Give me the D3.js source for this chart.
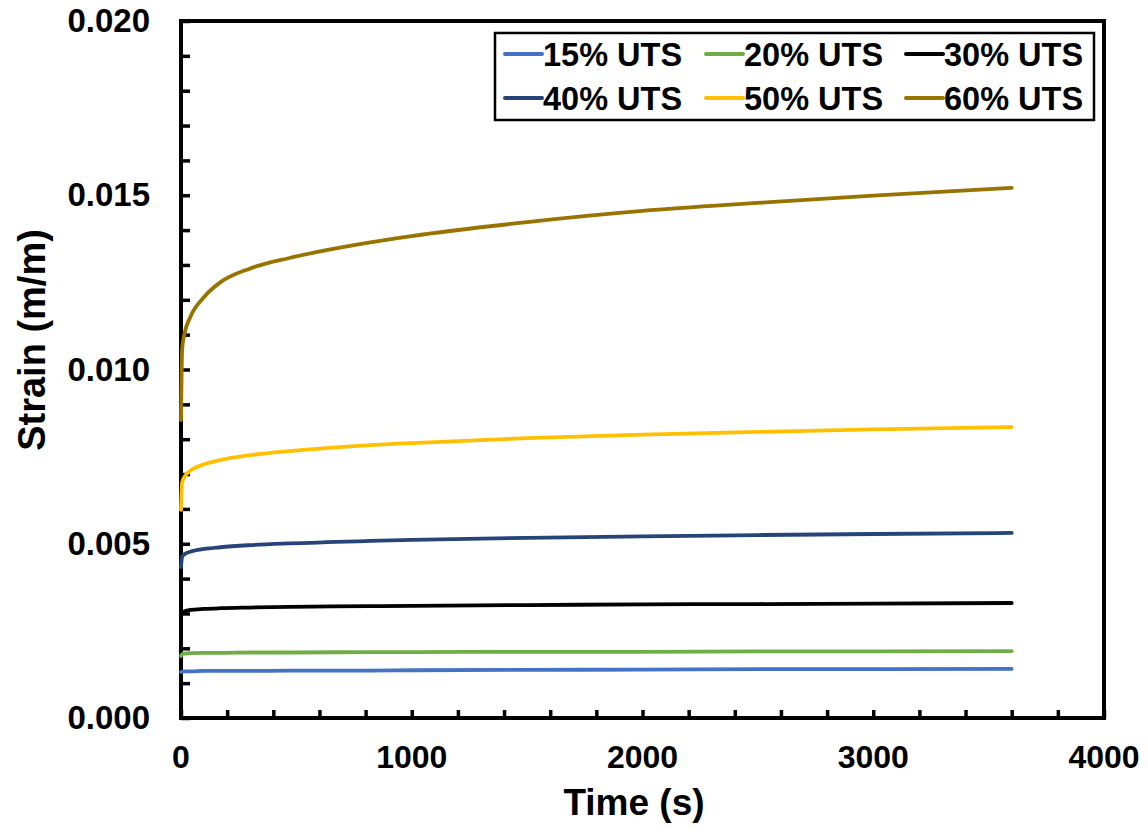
<!DOCTYPE html>
<html>
<head>
<meta charset="utf-8">
<script src="https://cdn.jsdelivr.net/npm/d3@7"></script>
<style>
  html, body { margin: 0; padding: 0; background: #fff; }
  svg { display: block; }
  text { font-family: "Liberation Sans", Arial, sans-serif; font-weight: bold; fill: #000; }
</style>
</head>
<body>
<svg id="chart" width="1148" height="828"></svg>
<script>
// Creep test: strain vs time at several stress levels (% of UTS)
const timeS = [0, 5, 15, 40, 100, 170, 300, 470, 820, 1000, 1500, 2000, 2500, 3000, 3600];

const seriesNames = ["15% UTS", "20% UTS", "30% UTS", "40% UTS", "50% UTS", "60% UTS"];
const seriesColors = ["#4472C4", "#70AD47", "#000000", "#264478", "#FFC000", "#997300"];

const strain15 = [0.00132, 0.00133, 0.00134, 0.00134, 0.00135, 0.00135, 0.00135, 0.00136, 0.00136, 0.00137, 0.00138, 0.00139, 0.00140, 0.00140, 0.00141];
const strain20 = [0.00178, 0.00183, 0.00185, 0.00186, 0.00187, 0.00187, 0.00188, 0.00188, 0.00189, 0.00189, 0.00190, 0.00190, 0.00191, 0.00191, 0.00192];
const strain30 = [0.00296, 0.00302, 0.00306, 0.00310, 0.00313, 0.00315, 0.00317, 0.00319, 0.00321, 0.00322, 0.00324, 0.00326, 0.00327, 0.00328, 0.00330];
const strain40 = [0.00433, 0.00463, 0.00470, 0.00477, 0.00485, 0.00490, 0.00496, 0.00501, 0.00508, 0.00511, 0.00517, 0.00521, 0.00525, 0.00528, 0.00531];
const strain50 = [0.00597, 0.00676, 0.00692, 0.00709, 0.00728, 0.00740, 0.00754, 0.00766, 0.00783, 0.00789, 0.00803, 0.00813, 0.00821, 0.00828, 0.00835];
const strain60 = [0.00855, 0.01058, 0.01102, 0.01150, 0.01208, 0.01250, 0.01290, 0.01320, 0.01365, 0.01383, 0.01423, 0.01455, 0.01478, 0.01499, 0.01521];

const xTickValues = [0, 1000, 2000, 3000, 4000];
const yTickValues = [0, 0.005, 0.010, 0.015, 0.020];

const allStrain = [strain15, strain20, strain30, strain40, strain50, strain60];
const series = seriesNames.map((name, i) => ({
  name,
  color: seriesColors[i],
  points: timeS.map((t, j) => ({ t, v: allStrain[i][j] }))
}));

const svg = d3.select("#chart");
const plot = { left: 181, top: 21, right: 1104, bottom: 718 };

const x = d3.scaleLinear().domain([0, 4000]).range([plot.left, plot.right]);
const y = d3.scaleLinear().domain([0, 0.02]).range([plot.bottom, plot.top]);

// Axes: inward ticks, minor every 200 s and every 0.001
const xAxis = d3.axisBottom(x)
  .tickValues(d3.range(0, 4001, 200))
  .tickSize(-8)
  .tickFormat("");
const yAxis = d3.axisLeft(y)
  .tickValues(d3.range(0, 21).map(i => i * 0.001))
  .tickSize(-9)
  .tickFormat("");

const gx = svg.append("g").attr("transform", `translate(0,${plot.bottom})`).call(xAxis);
const gy = svg.append("g").attr("transform", `translate(${plot.left},0)`).call(yAxis);
[gx, gy].forEach(g => {
  g.select(".domain").remove();
  g.selectAll(".tick line").attr("stroke", "#000").attr("stroke-width", 3.5);
});

// Plot frame
svg.append("rect")
  .attr("x", plot.left)
  .attr("y", plot.top)
  .attr("width", plot.right - plot.left)
  .attr("height", plot.bottom - plot.top)
  .attr("fill", "none")
  .attr("stroke", "#000")
  .attr("stroke-width", 4);

// Series lines, drawn over the frame
const line = d3.line()
  .x(d => x(d.t))
  .y(d => y(d.v))
  .curve(d3.curveMonotoneX);

svg.append("g")
  .selectAll("path")
  .data(series)
  .join("path")
  .attr("d", d => line(d.points))
  .attr("fill", "none")
  .attr("stroke", d => d.color)
  .attr("stroke-width", 3.8)
  .attr("stroke-linecap", "round");

// Tick labels
svg.append("g")
  .selectAll("text")
  .data(xTickValues)
  .join("text")
  .attr("x", d => x(d))
  .attr("y", 768)
  .attr("text-anchor", "middle")
  .attr("font-size", 32)
  .text(d => d3.format("d")(d));

svg.append("g")
  .selectAll("text")
  .data(yTickValues)
  .join("text")
  .attr("x", 150)
  .attr("y", d => y(d) + 11)
  .attr("text-anchor", "end")
  .attr("font-size", 33)
  .text(d => d3.format(".3f")(d));

// Axis titles
svg.append("text")
  .attr("x", 634)
  .attr("y", 815)
  .attr("text-anchor", "middle")
  .attr("font-size", 37)
  .text("Time (s)");

svg.append("text")
  .attr("transform", "translate(45,340) rotate(-90)")
  .attr("text-anchor", "middle")
  .attr("font-size", 38)
  .text("Strain (m/m)");

// Legend
const legend = svg.append("g");
legend.append("rect")
  .attr("x", 495)
  .attr("y", 33)
  .attr("width", 599)
  .attr("height", 87)
  .attr("fill", "#fff")
  .attr("stroke", "#000")
  .attr("stroke-width", 2.5);

const colX = [505, 706, 906];
const rowY = [54, 98];
const items = legend.selectAll("g.item")
  .data(series)
  .join("g")
  .attr("class", "item")
  .attr("transform", (d, i) => `translate(${colX[i % 3]},${rowY[Math.floor(i / 3)]})`);

items.append("line")
  .attr("x1", 0).attr("x2", 37)
  .attr("y1", 0).attr("y2", 0)
  .attr("stroke", d => d.color)
  .attr("stroke-width", 4)
  .attr("stroke-linecap", "round");

items.append("text")
  .attr("x", 38)
  .attr("y", 12)
  .attr("font-size", 32.5)
  .text(d => d.name);
</script>
</body>
</html>
